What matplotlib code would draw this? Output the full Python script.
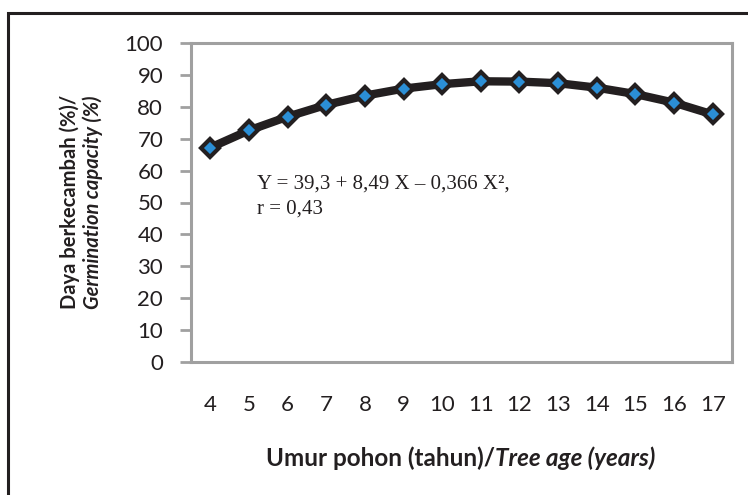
import matplotlib.pyplot as plt
from matplotlib.patches import Rectangle

# data
umur = [4, 5, 6, 7, 8, 9, 10, 11, 12, 13, 14, 15, 16, 17]
daya = [67.2, 72.6, 76.9, 80.6, 83.5, 85.7, 87.1, 88.0, 87.9, 87.4, 86.0, 84.0, 81.3, 77.6]
yticks = [0, 10, 20, 30, 40, 50, 60, 70, 80, 90, 100]

plt.rcParams['font.family'] = ['Lato', 'DejaVu Sans']
grey = '#a0a0a0'
txt = '#231f20'
W, H = 748, 495

fig = plt.figure(figsize=(7.48, 4.95), dpi=100)
ax = fig.add_axes([191 / W, 1 - 362 / H, (732 - 191) / W, (362 - 43) / H])

ax.plot(umur, daya, color='#231f20', lw=6, solid_joinstyle='round',
        marker='D', ms=9.5, mfc='#2b8fd6', mec='#231f20', mew=3, zorder=3)

ax.set_xlim(3.5, 17.5)
ax.set_ylim(0, 100)
ax.set_yticks(yticks)
ax.set_xticks(umur)
ax.tick_params(axis='y', length=8, width=2, color=grey, labelsize=16, labelcolor=txt, pad=12)
ax.tick_params(axis='x', length=0, labelsize=16, labelcolor=txt, pad=24)
for s in ax.spines.values():
    s.set_color(grey)
    s.set_linewidth(2.2)

fig.text(257 / W, 1 - 184 / H, 'Y = 39,3 + 8,49 X \u2013 0,366 X\u00b2,', va='center',
         fontsize=15, family='Liberation Serif', color=txt)
fig.text(257 / W, 1 - 209 / H, 'r = 0,43', va='center',
         fontsize=15, family='Liberation Serif', color=txt)

# axis titles, bold part and bold italic part
fig.text(70 / W, 1 - 202 / H, 'Daya berkecambah (%)/', rotation=90,
         ha='center', va='center', fontsize=14.5, fontweight='bold', color=txt)
fig.text(93 / W, 1 - 202 / H, 'Germination capacity (%)', rotation=90,
         ha='center', va='center', fontsize=14.5, fontweight='bold', style='italic', color=txt)

t1 = fig.text(0, 1 - 458 / H, 'Umur pohon (tahun)/', ha='left', va='center',
              fontsize=17.5, fontweight='bold', color=txt)
t2 = fig.text(0, 1 - 458 / H, 'Tree age (years)', ha='left', va='center',
              fontsize=17.5, fontweight='bold', style='italic', color=txt)
fig.canvas.draw()
r = fig.canvas.get_renderer()
w1 = t1.get_window_extent(r).width
w2 = t2.get_window_extent(r).width
x0 = 461 - (w1 + w2) / 2
t1.set_x(x0 / W)
t2.set_x((x0 + w1) / W)

# outer frame, cut off at right and bottom
fig.patches.append(Rectangle((8 / W, -0.1), 1.2, 1 - 13 / H + 0.1, transform=fig.transFigure,
                             fill=False, ec='#231f20', lw=2.2))

plt.savefig('out.png', dpi=100)
